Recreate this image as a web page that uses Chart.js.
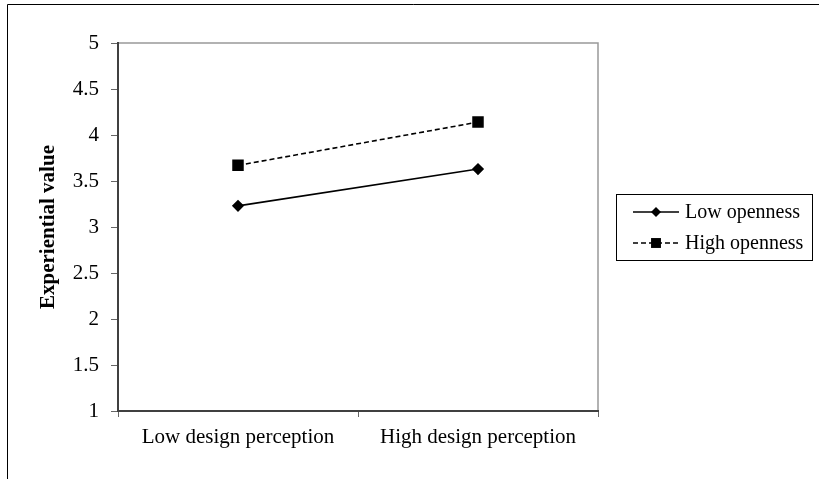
<!DOCTYPE html>
<html lang="en">
  <head>
    <meta charset="utf-8" />
    <title>Experiential value</title>
    <style>
      * {
        margin: 0;
        padding: 0;
      }
      body {
        background: white;
      }
      .chartBox {
        width: 819px;
        height: 479px;
      }
    </style>
  </head>
  <body>
    <div class="chartBox">
      <canvas id="myChart" width="819" height="479"></canvas>
    </div>

    <script src="https://cdn.jsdelivr.net/npm/chart.js"></script>

    <script>
      // data block
      const categories = ["Low design perception", "High design perception"];
      const lowOpenness = [3.23, 3.63];
      const highOpenness = [3.67, 4.14];
      const yTicks = [1, 1.5, 2, 2.5, 3, 3.5, 4, 4.5, 5];

      const serif = "'Liberation Serif', 'Times New Roman', serif";

      const data = {
        labels: categories,
        datasets: [
          {
            label: "Low openness",
            data: lowOpenness,
            borderColor: "#000",
            backgroundColor: "#000",
            borderWidth: 1.6,
            pointStyle: "rectRot",
            pointRadius: 5,
          },
          {
            label: "High openness",
            data: highOpenness,
            borderColor: "#000",
            backgroundColor: "#000",
            borderWidth: 1.6,
            borderDash: [5, 3],
            pointStyle: "rect",
            pointRadius: 7,
          },
        ],
      };

      // frame plugin: outer border plus the grey top/right edge of the plot
      const frame = {
        id: "frame",
        beforeDraw(chart) {
          const { ctx, chartArea: { top, right, bottom, left } } = chart;
          ctx.save();
          ctx.strokeStyle = "#000";
          ctx.lineWidth = 1;
          ctx.beginPath();
          ctx.moveTo(7.5, 479);
          ctx.lineTo(7.5, 4.5);
          ctx.lineTo(819, 4.5);
          ctx.stroke();
          ctx.strokeStyle = "#999";
          ctx.lineWidth = 1.5;
          ctx.beginPath();
          ctx.moveTo(left, top);
          ctx.lineTo(right, top);
          ctx.lineTo(right, bottom);
          ctx.stroke();
          ctx.restore();
        },
      };

      // legend plugin: boxed legend on the right
      const boxLegend = {
        id: "boxLegend",
        afterDraw(chart) {
          const ctx = chart.ctx;
          ctx.save();
          ctx.strokeStyle = "#000";
          ctx.lineWidth = 1;
          ctx.strokeRect(616.5, 194.5, 196, 66);
          const rows = [212, 243];
          chart.data.datasets.forEach((ds, i) => {
            const y = rows[i];
            ctx.strokeStyle = ds.borderColor;
            ctx.fillStyle = ds.backgroundColor;
            ctx.lineWidth = ds.borderWidth;
            ctx.setLineDash(ds.borderDash || []);
            ctx.beginPath();
            ctx.moveTo(633, y);
            ctx.lineTo(679, y);
            ctx.stroke();
            ctx.setLineDash([]);
            const cx = 656;
            if (ds.pointStyle === "rectRot") {
              const r = ds.pointRadius;
              ctx.beginPath();
              ctx.moveTo(cx, y - r);
              ctx.lineTo(cx + r, y);
              ctx.lineTo(cx, y + r);
              ctx.lineTo(cx - r, y);
              ctx.closePath();
              ctx.fill();
            } else {
              const s = ds.pointRadius * Math.SQRT1_2;
              ctx.fillRect(cx - s, y - s, 2 * s, 2 * s);
            }
            ctx.fillStyle = "#000";
            ctx.font = "20px " + serif;
            ctx.textBaseline = "middle";
            ctx.textAlign = "left";
            ctx.fillText(ds.label, 685, y + 1);
          });
          ctx.restore();
        },
      };

      // config block
      const config = {
        type: "line",
        data: data,
        options: {
          responsive: false,
          animation: false,
          layout: {
            padding: { top: 43, right: 221, bottom: 0, left: 0 },
          },
          plugins: {
            legend: { display: false },
            tooltip: { enabled: false },
          },
          scales: {
            x: {
              offset: true,
              grid: {
                offset: true,
                drawOnChartArea: false,
                drawTicks: true,
                tickLength: 6,
                color: "#666",
              },
              border: { color: "#404040", width: 2 },
              ticks: {
                color: "#000",
                padding: 8,
                maxRotation: 0,
                font: { family: serif, size: 21 },
              },
              afterFit(scale) {
                scale.height = 68;
              },
            },
            y: {
              min: 1,
              max: 5,
              afterBuildTicks(scale) {
                scale.ticks = yTicks.map((v) => ({ value: v }));
              },
              grid: {
                drawOnChartArea: false,
                drawTicks: true,
                tickLength: 7,
                color: "#666",
              },
              border: { color: "#404040", width: 2 },
              ticks: {
                color: "#000",
                padding: 12,
                font: { family: serif, size: 21 },
                callback: (value) => String(value),
              },
              title: {
                display: true,
                text: "Experiential value",
                color: "#000",
                padding: { top: 36, bottom: 0 },
                font: { family: serif, size: 21, weight: "bold" },
              },
              afterFit(scale) {
                scale.width = 118;
              },
            },
          },
        },
        plugins: [frame, boxLegend],
      };

      // init render block
      const myChart = new Chart(document.getElementById("myChart"), config);
    </script>
  </body>
</html>
